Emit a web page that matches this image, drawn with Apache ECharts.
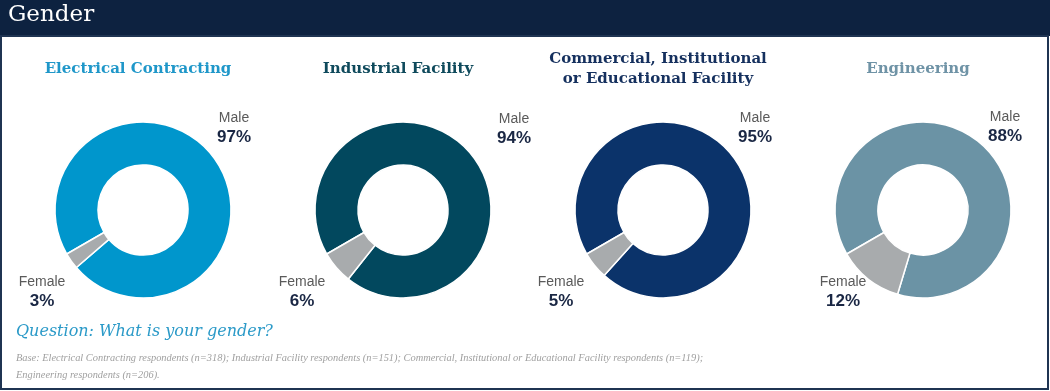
<!DOCTYPE html>
<html>
<head>
<meta charset="utf-8">
<script src="https://cdn.jsdelivr.net/npm/echarts@6/dist/echarts.min.js"></script>
<style>
html,body{margin:0;padding:0;background:#fff;}
#c{width:1050px;height:391px;}
</style>
</head>
<body>
<div id="c"></div>
<script>
// ---- data ----
const headerTitle = 'Gender';
const categories = ['Electrical Contracting', 'Industrial Facility', 'Commercial, Institutional\nor Educational Facility', 'Engineering'];
const genders = ['Male', 'Female'];
const maleShare = [97, 94, 95, 88];
const femaleShare = [3, 6, 5, 12];
const questionText = 'Question: What is your gender?';
const baseText = 'Base: Electrical Contracting respondents (n=318); Industrial Facility respondents (n=151); Commercial, Institutional or Educational Facility respondents (n=119);\nEngineering respondents (n=206).';

// ---- style / layout ----
const seriesColors = ['#0096cc', '#02485e', '#0b336a', '#6b93a5'];
const titleColors = ['#1f97c9', '#0f4a5c', '#15305e', '#6f93a6'];
const femaleColor = '#a8abad';
const centersX = [143, 403, 663, 923];
const centerY = 210;
const maleLabelPos = [[234, 128], [514, 129], [755, 128], [1005, 127]];
const femaleLabelPos = [[42, 292], [302, 292], [561, 292], [843, 292]];
const titleX = [138, 398, 658, 918];

const chart = echarts.init(document.getElementById('c'), null, {renderer: 'canvas'});

const titles = categories.map((c, i) => ({
  text: c,
  left: titleX[i],
  top: c.indexOf('\n') >= 0 ? 49 : 59,
  padding: 0,
  textAlign: 'center',
  textStyle: {
    fontFamily: 'DejaVu Serif',
    fontWeight: 'bold',
    fontSize: 15,
    lineHeight: 20,
    color: titleColors[i]
  }
}));

const series = categories.map((c, i) => ({
  type: 'pie',
  name: c.replace('\n', ' '),
  center: [centersX[i], centerY],
  radius: [45, 88],
  startAngle: 210,
  clockwise: true,
  silent: true,
  avoidLabelOverlap: false,
  itemStyle: {borderColor: '#ffffff', borderWidth: 1.5},
  labelLine: {show: false},
  label: {
    show: true,
    position: 'outside',
    formatter: p => '{n|' + p.name + '}\n{v|' + p.value + '%}',
    rich: {
      n: {fontFamily: 'Liberation Sans', fontSize: 14, lineHeight: 19, color: '#5a5a5a', align: 'center'},
      v: {fontFamily: 'Liberation Sans', fontSize: 17, fontWeight: 'bold', lineHeight: 19, color: '#1a2744', align: 'center'}
    }
  },
  labelLayout: function (p) {
    const pos = p.dataIndex === 0 ? maleLabelPos[i] : femaleLabelPos[i];
    return {x: pos[0], y: pos[1], align: 'center', verticalAlign: 'middle'};
  },
  data: [
    {name: genders[0], value: maleShare[i], itemStyle: {color: seriesColors[i]}},
    {name: genders[1], value: femaleShare[i], itemStyle: {color: femaleColor}}
  ]
}));

chart.setOption({
  animation: false,
  backgroundColor: '#ffffff',
  title: titles,
  graphic: [
    {type: 'rect', shape: {x: 0, y: 0, width: 1050, height: 36}, style: {fill: '#0d2240'}, z: 0},
    {type: 'rect', shape: {x: 1, y: 36, width: 1047, height: 353}, style: {fill: 'none', stroke: '#1f3452', lineWidth: 2}, z: 0},
    {type: 'text', left: 8, top: 4, style: {text: headerTitle, fill: '#ffffff', font: '23px "DejaVu Serif"'}},
    {type: 'text', left: 16, top: 324, style: {text: questionText, fill: '#2b9ac8', font: 'italic 16px "DejaVu Serif"'}},
    {type: 'text', left: 16, top: 350, style: {text: baseText, fill: '#a0a0a0', font: 'italic 10.4px "Liberation Serif"', lineHeight: 17}}
  ],
  series: series
});
</script>
</body>
</html>
